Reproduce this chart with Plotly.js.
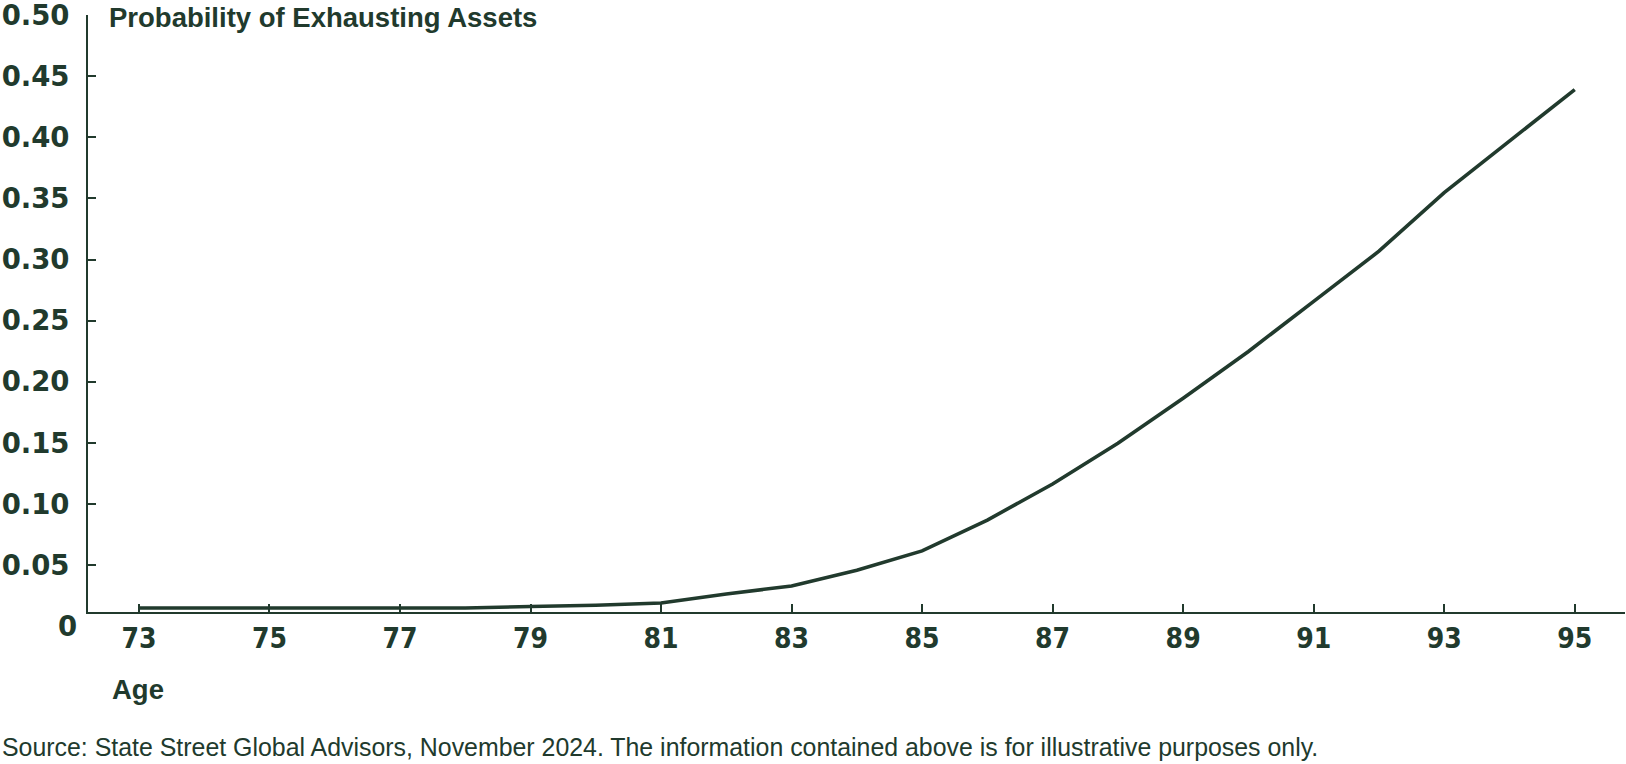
<!DOCTYPE html>
<html>
<head>
<meta charset="utf-8">
<script src="https://cdn.plot.ly/plotly-3.0.1.min.js"></script>
<style>
html,body{margin:0;padding:0;background:#fff;}
#chart{width:1626px;height:764px;}
</style>
</head>
<body>
<div id="chart"></div>
<script>
// ---- data ----
const ages = [73, 74, 75, 76, 77, 78, 79, 80, 81, 82, 83, 84, 85, 86, 87, 88, 89, 90, 91, 92, 93, 94, 95];
const probExhaust = [0.015, 0.015, 0.015, 0.015, 0.015, 0.015, 0.0162, 0.0172, 0.0191, 0.0265, 0.033, 0.0459, 0.0617, 0.0869, 0.1164, 0.1497, 0.1866, 0.2248, 0.2658, 0.3068, 0.3547, 0.397, 0.439];
const xTickVals = [73, 75, 77, 79, 81, 83, 85, 87, 89, 91, 93, 95];
const yTickVals = [0.05, 0.10, 0.15, 0.20, 0.25, 0.30, 0.35, 0.40, 0.45, 0.50];
const yZeroLabel = "0";
const chartTitle = "Probability of Exhausting Assets";
const xTitle = "Age";
const sourceNote = "Source: State Street Global Advisors, November 2024. The information contained above is for illustrative purposes only.";

// ---- styling ----
const ink = "#213a2d";
const yRange = [0.0117, 0.5];
const xRange = [72.22, 95.77];
const M = {l: 88, r: 1, t: 15, b: 152};
const plotH = 764 - M.t - M.b;
const plotW = 1626 - M.l - M.r;
const py = (pix) => (764 - M.b - pix) / plotH;   // pixel row -> paper y
const px = (pix) => (pix - M.l) / plotW;         // pixel col -> paper x
const zeroPaperY = (0 - yRange[0]) / (yRange[1] - yRange[0]);

const trace = {
  x: ages,
  y: probExhaust,
  type: "scatter",
  mode: "lines",
  line: {color: ink, width: 3.6},
  hoverinfo: "x+y",
  cliponaxis: false
};

const layout = {
  width: 1626,
  height: 764,
  margin: M,
  paper_bgcolor: "#ffffff",
  plot_bgcolor: "#ffffff",
  showlegend: false,
  font: {family: "Liberation Sans, Arial, sans-serif", color: ink},
  title: {
    text: chartTitle,
    xref: "container", yref: "container",
    x: 109 / 1626, xanchor: "left",
    y: 1 - 17 / 764, yanchor: "middle",
    font: {family: "Liberation Sans, Arial, sans-serif", size: 27.5, weight: 700, color: ink}
  },
  xaxis: {
    range: xRange,
    tickmode: "array",
    tickvals: xTickVals,
    ticks: "inside",
    ticklen: 8,
    tickwidth: 2,
    tickcolor: ink,
    showline: true,
    linecolor: ink,
    linewidth: 2,
    showgrid: false,
    zeroline: false,
    ticklabelstandoff: 0,
    ticklabeloverflow: "allow",
    tickfont: {family: "DejaVu Sans Condensed, DejaVu Sans, sans-serif", size: 28, weight: 700, color: ink}
  },
  yaxis: {
    range: yRange,
    tickmode: "array",
    tickvals: yTickVals,
    tickformat: ".2f",
    ticks: "inside",
    ticklen: 8,
    tickwidth: 2,
    tickcolor: ink,
    showline: true,
    linecolor: ink,
    linewidth: 2,
    showgrid: false,
    zeroline: false,
    ticklabelstandoff: 11,
    ticklabeloverflow: "allow",
    tickfont: {family: "DejaVu Sans, sans-serif", size: 27.5, weight: 700, color: ink}
  },
  annotations: [
    {
      text: yZeroLabel, xref: "paper", yref: "paper",
      x: px(79), y: zeroPaperY, xanchor: "right", yanchor: "middle",
      showarrow: false,
      font: {family: "DejaVu Sans, sans-serif", size: 27.5, weight: 700, color: ink}
    },
    {
      text: xTitle, xref: "paper", yref: "paper",
      x: px(110), y: py(690), xanchor: "left", yanchor: "middle",
      showarrow: false,
      font: {family: "Liberation Sans, Arial, sans-serif", size: 27.5, weight: 700, color: ink}
    },
    {
      text: sourceNote, xref: "paper", yref: "paper",
      x: px(0), y: py(747), xanchor: "left", yanchor: "middle",
      showarrow: false,
      font: {family: "Liberation Sans, Arial, sans-serif", size: 24.9, color: ink}
    }
  ]
};

Plotly.newPlot("chart", [trace], layout, {displayModeBar: false, staticPlot: false});
</script>
</body>
</html>
